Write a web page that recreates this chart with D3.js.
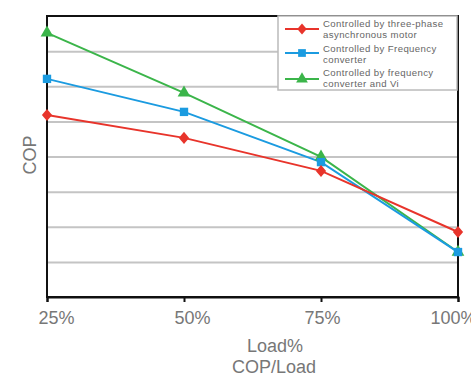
<!DOCTYPE html>
<html><head><meta charset="utf-8">
<script src="https://cdn.jsdelivr.net/npm/d3@7"></script>
<style>body{margin:0;background:#fff;font-family:"Liberation Sans",Arial,sans-serif;}</style>
</head><body><svg id="c" width="471" height="383"></svg>
<script>
const categories = ["25%", "50%", "75%", "100%"];
const labelShift = [9, 8, 1, -5];
const seriesNames = [
  ["Controlled by three-phase", "asynchronous motor"],
  ["Controlled by Frequency", "converter"],
  ["Controlled by frequency", "converter and Vi"]
];
const redValues = [5.18, 4.53, 3.59, 1.85];
const blueValues = [6.21, 5.27, 3.84, 1.28];
const greenValues = [7.52, 5.81, 3.99, 1.28];
const yTicks = [1, 2, 3, 4, 5, 6, 7];

const wideDiamond = {
  draw(ctx, size) {
    const h = Math.sqrt(size) * 0.72, w = h * 0.85;
    ctx.moveTo(0, -h); ctx.lineTo(w, 0); ctx.lineTo(0, h); ctx.lineTo(-w, 0); ctx.closePath();
  }
};

const series = [
  {name: seriesNames[2], values: greenValues, color: "#3bb54a", sym: d3.symbolTriangle, size: 70},
  {name: seriesNames[1], values: blueValues, color: "#1b9be0", sym: d3.symbolSquare, size: 70},
  {name: seriesNames[0], values: redValues, color: "#e8342b", sym: wideDiamond, size: 70}
];

const svg = d3.select("#c");
const L = 47, R = 458, T = 16, B = 297;
const x = d3.scalePoint().domain(categories).range([L, R]);
const y = d3.scaleLinear().domain([0, 8]).range([B, T]);

svg.append("g").attr("transform", `translate(${L},0)`)
  .call(d3.axisLeft(y).tickValues(yTicks).tickSize(-(R - L)).tickFormat(""))
  .call(g => g.select(".domain").remove())
  .call(g => g.selectAll("line").attr("stroke", "#c4c4c4").attr("stroke-width", 2));

svg.append("rect").attr("x", L).attr("y", T).attr("width", R - L).attr("height", B - T)
  .attr("fill", "none").attr("stroke", "#111").attr("stroke-width", 2);

const xa = svg.append("g").attr("transform", `translate(0,${B})`)
  .call(d3.axisBottom(x).tickSize(5).tickPadding(9));
xa.select(".domain").attr("stroke", "#111").attr("stroke-width", 2);
xa.selectAll(".tick line").attr("stroke", "#111").attr("stroke-width", 2);
xa.selectAll(".tick text").attr("fill", "#777").attr("font-size", 18)
  .attr("font-family", "Liberation Sans, Arial, sans-serif")
  .attr("dx", (d, i) => labelShift[i]);

const line = d3.line().x((d, i) => x(categories[i])).y(d => y(d));
series.forEach(s => {
  svg.append("path").datum(s.values).attr("d", line)
    .attr("fill", "none").attr("stroke", s.color).attr("stroke-width", 2);
});
series.forEach(s => {
  svg.append("g").selectAll("path").data(s.values).join("path")
    .attr("transform", (d, i) => `translate(${x(categories[i])},${y(d)})`)
    .attr("d", d3.symbol().type(s.sym).size(s.size))
    .attr("fill", s.color);
});

svg.append("text").attr("x", 275).attr("y", 352).attr("text-anchor", "middle")
  .attr("font-size", 18).attr("fill", "#777").text("Load%");
svg.append("text").attr("x", 274).attr("y", 373).attr("text-anchor", "middle")
  .attr("font-size", 18).attr("fill", "#777").text("COP/Load");
svg.append("text").attr("transform", "translate(36,155) rotate(-90)").attr("text-anchor", "middle")
  .attr("font-size", 18).attr("fill", "#777").text("COP");

const lg = svg.append("g");
lg.append("rect").attr("x", 278).attr("y", 16).attr("width", 179).attr("height", 74)
  .attr("fill", "#fff").attr("stroke", "#bbb").attr("stroke-width", 1.5);
const legendOrder = [series[2], series[1], series[0]];
const rowY = [29, 53, 79];
const baseY = [[27, 38], [52, 63], [76, 87]];
legendOrder.forEach((s, i) => {
  lg.append("line").attr("x1", 285).attr("x2", 319).attr("y1", rowY[i]).attr("y2", rowY[i])
    .attr("stroke", s.color).attr("stroke-width", 2);
  lg.append("path").attr("transform", `translate(302,${rowY[i]})`)
    .attr("d", d3.symbol().type(s.sym).size(60)).attr("fill", s.color);
  s.name.forEach((t, j) => {
    lg.append("text").attr("x", 323).attr("y", baseY[i][j]).attr("font-size", 9.6)
      .attr("letter-spacing", 0.4).attr("fill", "#666").text(t);
  });
});
</script></body></html>
